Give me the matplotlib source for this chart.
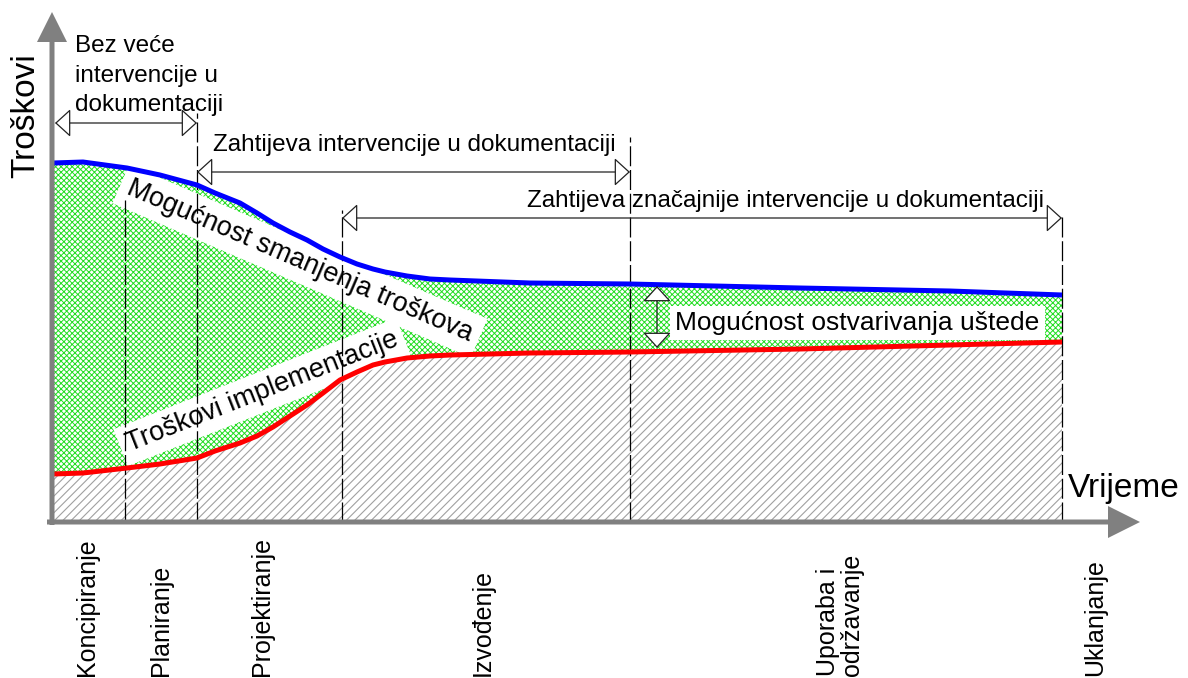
import matplotlib.pyplot as plt
from matplotlib.patches import ArrowStyle

plt.rcParams['font.family'] = ['Liberation Sans', 'DejaVu Sans']

# vrijeme (x) i troškovi (y) ocitani sa slike
t = [3, 33, 77, 110, 147, 165, 190, 207, 223, 240, 257, 273, 290, 307, 323, 335, 357, 380, 400, 480, 580, 750, 900, 1012]
mogucnost = [359, 360, 354, 347, 337, 329, 319, 309, 299, 290, 282, 273, 265, 258, 253, 250, 246, 243, 242, 239, 238, 234, 231, 227]
implementacija = [48, 49, 54, 58, 64, 71, 79, 86, 95, 106, 117, 129, 142, 150, 157, 160, 164, 166, 167, 169, 170, 173, 177, 180]

granice = [75, 147, 292, 580, 1012]
granice_vrh = [322, 409, 312, 385, 307]
faze = ['Koncipiranje', 'Planiranje', 'Projektiranje', 'Izvođenje', 'Uporaba i\nodržavanje', 'Uklanjanje']
faze_x = [37, 111, 212, 433, 790, 1045]

# rasponi intervencija: od, do, visina
raspon_od = [5, 147, 292]
raspon_do = [147, 580, 1012]
raspon_y = [399, 350, 304]

fig = plt.figure(figsize=(11.88, 6.78), dpi=100)
ax = fig.add_axes([0, 0, 1, 1])
ax.set_xlim(-50, 1138)
ax.set_ylim(-156, 522)
ax.axis('off')

# ispune
plt.rcParams['hatch.linewidth'] = 0.8
ax.fill_between(t, 0, implementacija, facecolor='white', edgecolor='#a0a0a0', hatch='////', linewidth=0, zorder=1)
plt.rcParams['hatch.linewidth'] = 0.7
ax.fill_between(t, implementacija, mogucnost, facecolor='white', edgecolor='#22dd22', hatch='xxxxxx', linewidth=0, zorder=1)

# krivulje
ax.plot(t, mogucnost, color='#0000ff', lw=3.6, zorder=6, solid_capstyle='butt', solid_joinstyle='round')
ax.plot(t, implementacija, color='#ff0000', lw=3.6, zorder=6, solid_capstyle='butt', solid_joinstyle='round')

# natpisi uz krivulje
ax.text(250, 261, 'Mogućnost smanjenja troškova', fontsize=19.5, rotation=-23.3,
        rotation_mode='anchor', ha='center', va='center', zorder=3,
        bbox=dict(boxstyle='square,pad=0.3', fc='white', ec='none'))
ax.text(212, 130, 'Troškovi implementacije', fontsize=19.5, rotation=21.5,
        rotation_mode='anchor', ha='center', va='center', zorder=3,
        bbox=dict(boxstyle='square,pad=0.25', fc='white', ec='none'))

# granice faza
for x, top in zip(granice, granice_vrh):
    ax.plot([x, x], [0, top], color='black', lw=0.9, ls=(0, (16, 3)), zorder=5)

# osi
ax.arrow(2, -3, 0, 513, width=5, head_width=30, head_length=30,
         length_includes_head=True, fc='#808080', ec='none', zorder=7)
ax.arrow(-3, 0, 1093, 0, width=5, head_width=32, head_length=32,
         length_includes_head=True, fc='#808080', ec='none', zorder=7)
ax.text(-24, 406, 'Troškovi', fontsize=24, rotation=90, ha='center', va='center')
ax.text(1018, 25, 'Vrijeme', fontsize=24, ha='left', va='baseline')

for x, name in zip(faze_x, faze):
    ax.text(x, -154, name, fontsize=18, rotation=90, ha='center', va='bottom',
            multialignment='left', linespacing=1.0)

# strelice raspona
stil = ArrowStyle('<|-|>', head_length=0.55, head_width=0.5)
for x0, x1, y in zip(raspon_od, raspon_do, raspon_y):
    ax.annotate('', xy=(x1, y), xytext=(x0, y),
                arrowprops=dict(arrowstyle=stil, mutation_scale=18, fc='white',
                                ec='#222222', lw=0.9, shrinkA=0, shrinkB=0), zorder=6)

ax.text(25, 487, 'Bez veće\nintervencije u\ndokumentaciji', fontsize=17.5,
        ha='left', va='top', linespacing=1.45)
ax.text(163, 371, 'Zahtijeva intervencije u dokumentaciji', fontsize=17.5, ha='left', va='baseline')
ax.text(477, 315, 'Zahtijeva značajnije intervencije u dokumentaciji', fontsize=17.5,
        ha='left', va='baseline')

# ustede
ax.annotate('', xy=(607, 236), xytext=(607, 174),
            arrowprops=dict(arrowstyle=stil, mutation_scale=18, fc='white',
                            ec='#222222', lw=0.9, shrinkA=0, shrinkB=0), zorder=6)
ax.text(625, 192, 'Mogućnost ostvarivanja uštede', fontsize=19, ha='left', va='baseline', zorder=3,
        bbox=dict(boxstyle='square,pad=0.2', fc='white', ec='none'))

fig.savefig('out.png', dpi=100)
